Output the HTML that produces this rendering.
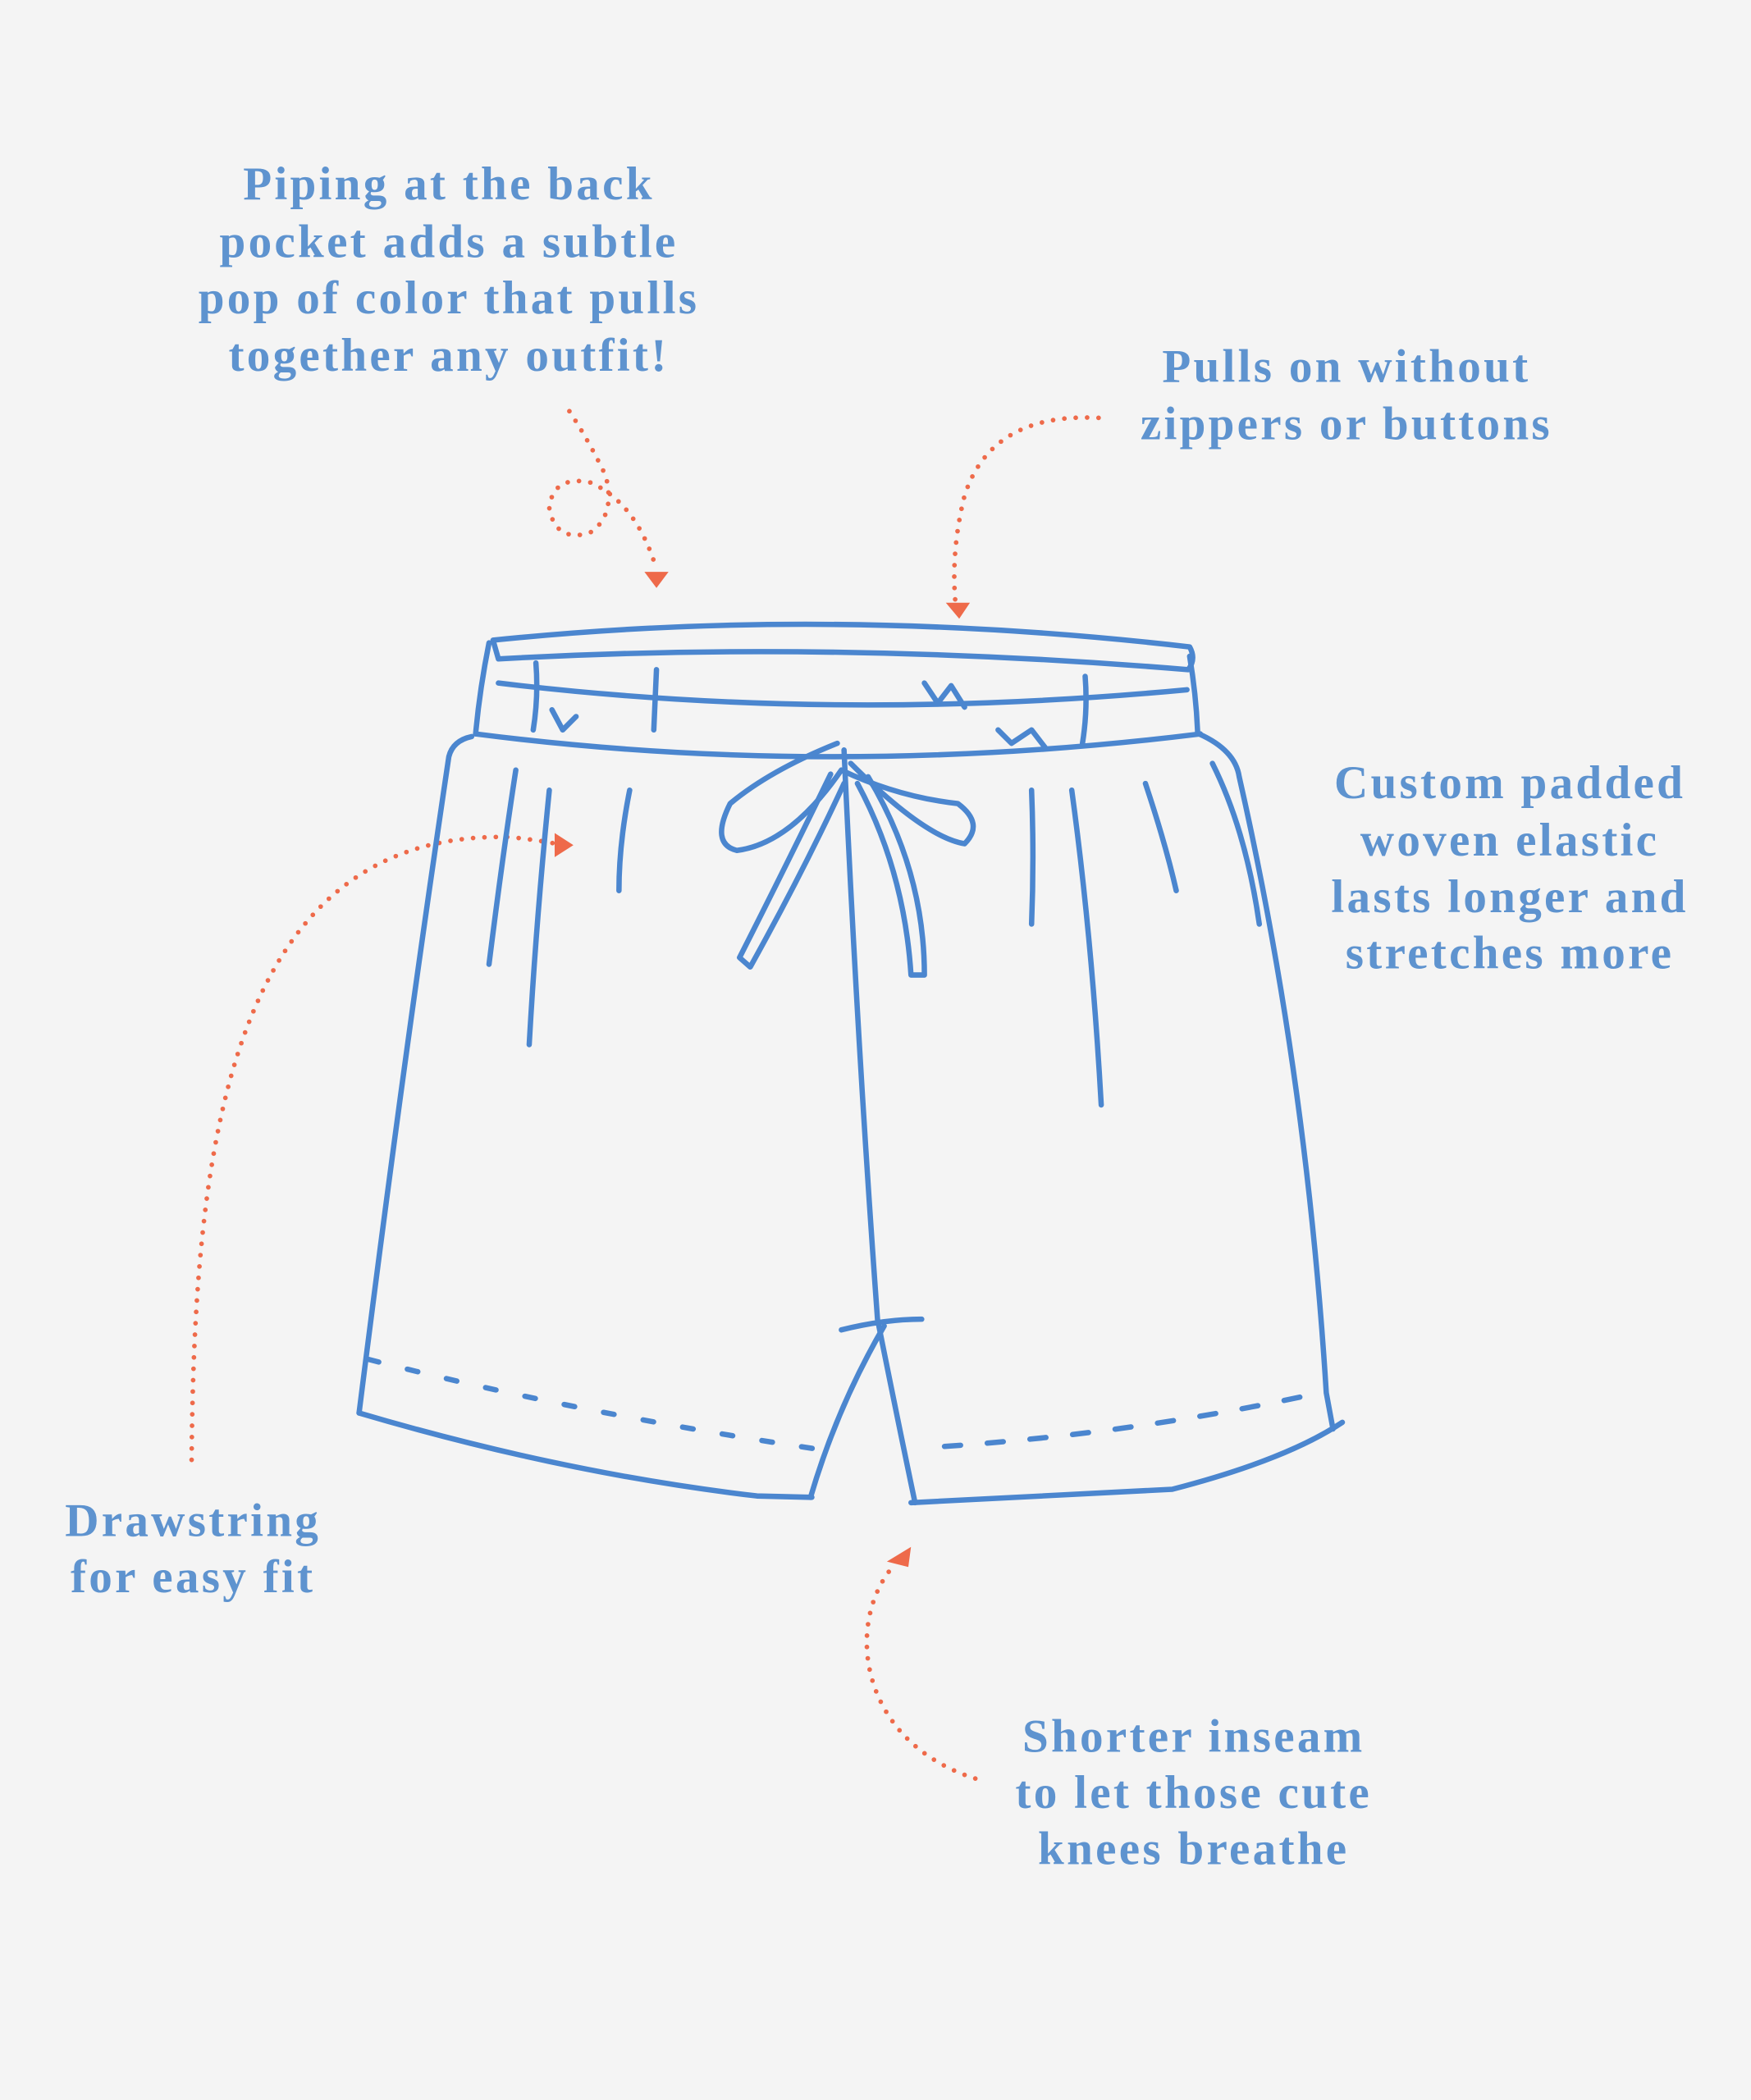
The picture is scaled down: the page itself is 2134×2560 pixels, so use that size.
<!DOCTYPE html>
<html><head><meta charset="utf-8"><style>
html,body{margin:0;padding:0;background:#f4f4f4;}
svg{display:block}
text{font-family:"Liberation Serif",serif;font-weight:bold;fill:#5e93cf;font-size:35px;letter-spacing:2px;text-anchor:middle}
</style></head><body>
<svg width="2134" height="2560" viewBox="0 0 1307 1568" xmlns="http://www.w3.org/2000/svg">
<rect width="1307" height="1568" fill="#f4f4f4"/>
<text x="335" y="149">Piping at the back</text>
<text x="335" y="192">pocket adds a subtle</text>
<text x="335" y="234">pop of color that pulls</text>
<text x="335" y="277">together any outfit!</text>
<text x="1005" y="285">Pulls on without</text>
<text x="1005" y="328">zippers or buttons</text>
<text x="1127" y="596">Custom padded</text>
<text x="1127" y="639">woven elastic</text>
<text x="1127" y="681">lasts longer and</text>
<text x="1127" y="723">stretches more</text>
<text x="144" y="1147">Drawstring</text>
<text x="144" y="1189">for easy fit</text>
<text x="891" y="1308">Shorter inseam</text>
<text x="891" y="1350">to let those cute</text>
<text x="891" y="1392">knees breathe</text>

<g fill="none" stroke="#ee6a4a" stroke-width="3.5" stroke-linecap="round" stroke-dasharray="0 8.5">
<path d="M425,307 Q440,330 452,355 Q460,385 440,398 Q415,405 410,380 Q412,355 440,360 Q475,375 490,425"/>
<path d="M820,312 Q740,308 720,370 Q710,410 713,448"/>
<path d="M143,1090 C145,860 170,620 380,625 Q400,627 415,630"/>
<path d="M728,1328 C640,1300 630,1210 668,1168"/>
</g>
<g fill="#ee6a4a">
<path d="M481,427 L499,427 L490,439 Z"/>
<path d="M706,450 L724,450 L716,462 Z"/>
<path d="M414,622 L428,631 L414,640 Z"/>
<path d="M662,1166 L680,1155 L678,1170 Z"/>
</g>

<g fill="none" stroke="#4b86cf" stroke-width="4" stroke-linecap="round" stroke-linejoin="round">
<path d="M368,478 Q620,452 888,483 Q893,492 887,500 Q620,478 372,492 Z"/>
<path d="M365,480 Q358,515 355,548"/>
<path d="M888,490 Q893,520 894,548"/>
<path d="M372,510 Q620,540 886,515"/>
<path d="M355,548 Q620,582 896,548"/>
<path d="M352,550 Q338,553 335,565 Q300,800 268,1055"/>
<path d="M268,1055 Q420,1100 565,1117 L606,1118"/>
<path d="M660,990 Q625,1050 605,1118"/>
<path d="M895,548 Q922,560 925,580 Q975,800 990,1040 L995,1067"/>
<path d="M680,1122 L875,1112 Q960,1090 1002,1062"/>
<path d="M630,560 Q640,780 655,985 Q670,1060 683,1122"/>
<path d="M628,993 Q660,985 688,985"/>
<path d="M275,1015 Q430,1055 610,1082" stroke-dasharray="8 22"/>
<path d="M705,1080 Q850,1070 985,1040" stroke-dasharray="12 20"/>
<path d="M625,555 Q575,575 545,600 Q530,630 550,635 Q590,630 628,575 Q670,595 715,600 Q735,615 720,630 Q690,625 635,570"/>
<path d="M620,578 Q585,650 552,715 L560,722 Q600,650 630,585"/>
<path d="M640,585 Q675,650 680,728 L690,728 Q690,650 648,580"/>
<path d="M410,590 Q400,690 395,780"/>
<path d="M385,575 Q375,640 365,720"/>
<path d="M470,590 Q462,630 462,665"/>
<path d="M770,590 Q772,640 770,690"/>
<path d="M800,590 Q815,700 822,825"/>
<path d="M855,585 Q870,630 878,665"/>
<path d="M905,570 Q930,620 940,690"/>
<path d="M400,495 Q402,520 398,545"/>
<path d="M490,500 L488,545"/>
<path d="M810,505 Q812,530 808,555"/>
<path d="M690,510 L700,525 L710,512 L720,528"/>
<path d="M412,530 L420,545 L430,535"/>
<path d="M745,545 L755,555 L770,545 L780,558"/>
</g>
</svg>
</body></html>
